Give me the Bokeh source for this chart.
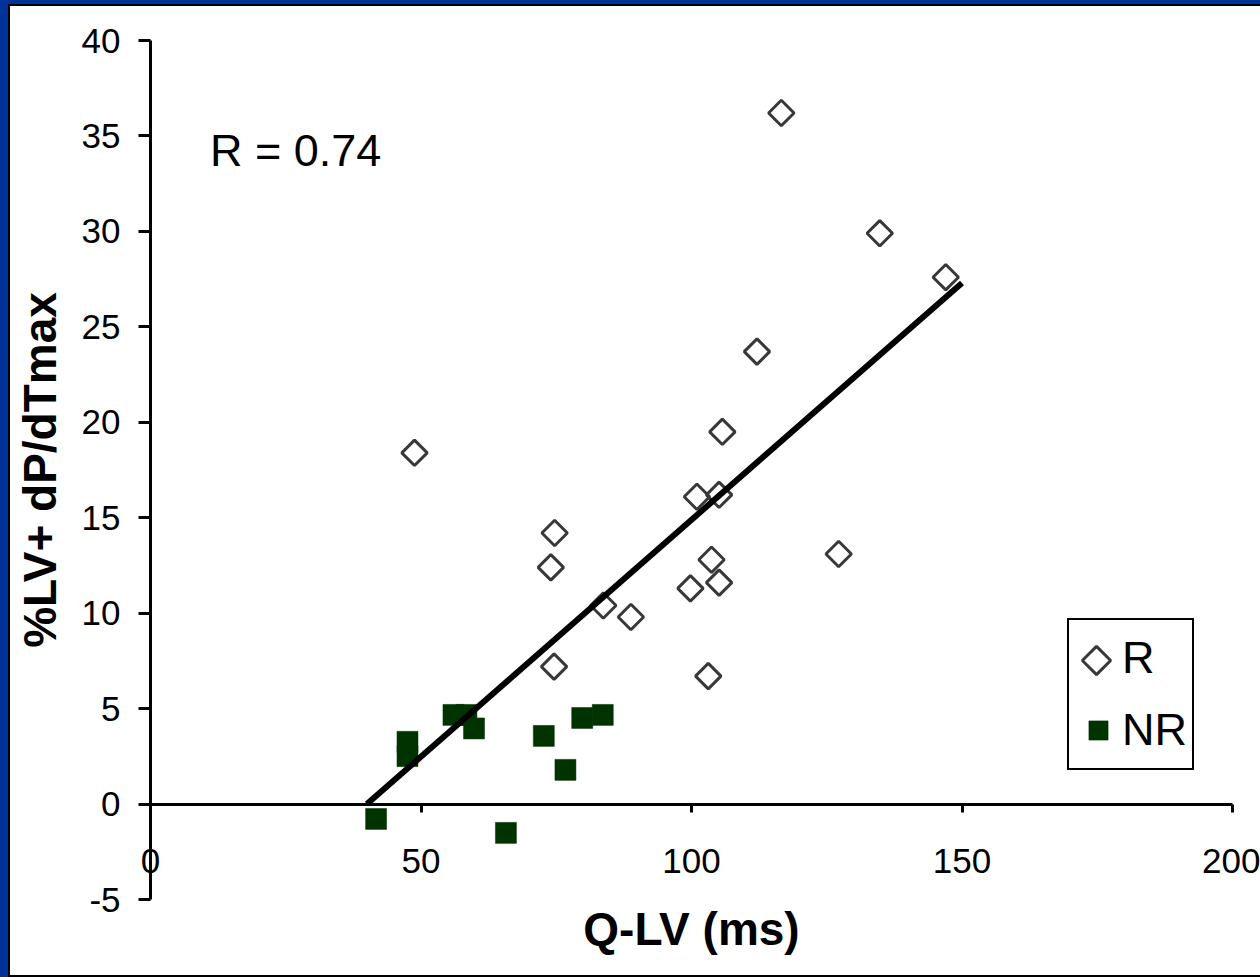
import math
from bokeh.plotting import figure
from bokeh.models import (Range1d, LinearAxis, FixedTicker, Label, Legend,
                          LegendItem)
from bokeh.layouts import column
from bokeh.embed import file_html
from bokeh.resources import INLINE

# ---- data ----
r_x = [116.6, 134.8, 147.0, 112.1, 105.7, 48.8, 101.0, 105.1, 74.7, 74.0,
       127.2, 103.7, 99.8, 105.1, 83.7, 88.8, 74.6, 103.1]
r_y = [36.2, 29.9, 27.6, 23.7, 19.5, 18.4, 16.1, 16.2, 14.2, 12.4,
       13.1, 12.8, 11.3, 11.6, 10.4, 9.8, 7.2, 6.7]
nr_x = [47.5, 47.5, 56.0, 58.4, 59.8, 72.7, 76.7, 79.8, 83.6, 41.7, 65.7]
nr_y = [3.26, 2.51, 4.67, 4.67, 3.96, 3.57, 1.79, 4.51, 4.67, -0.78, -1.51]
fit_x = [40.0, 150.0]
fit_y = [0.0, 27.3]
x_ticks = [0, 50, 100, 150, 200]
y_ticks = [-5, 0, 5, 10, 15, 20, 25, 30, 35, 40]
series_names = ["R", "NR"]
r_text = "R = 0.74"
x_title = "Q-LV (ms)"
y_title = "%LV+ dP/dTmax"

FONT = "Liberation Sans"

# ---- layout in pixels (figure is 1250 x 969) ----
W, H = 1250, 969
x0_px, x200_px = 140, 1222          # where x=0 and x=200 sit
y40_px, ym5_px = 34, 893            # where y=40 and y=-5 sit (from top)
sx = (x200_px - x0_px) / 200.0
sy = (ym5_px - y40_px) / 45.0
x_range = Range1d(-x0_px / sx, (W - x0_px) / sx)
y_range = Range1d(-5 - (H - ym5_px) / sy, 40 + y40_px / sy)

p = figure(width=W, height=H, x_range=x_range, y_range=y_range,
           output_backend="svg", toolbar_location=None, x_axis_location=None,
           y_axis_location=None, min_border=0, margin=(2, 0, 2, 2),
           styles={"background-color": "white"})
p.outline_line_color = None
p.background_fill_color = "white"
p.border_fill_color = "white"
p.grid.visible = False
p.extra_x_ranges = {"px": Range1d(0, W)}
p.extra_y_ranges = {"px": Range1d(0, H)}

# y axis at x = 0
ya = LinearAxis(fixed_location=0, bounds=(-5, 40), ticker=FixedTicker(ticks=y_ticks),
                major_label_overrides={t: str(t) for t in y_ticks},
                major_tick_out=12, major_tick_in=0, minor_tick_line_color=None,
                axis_line_width=3, major_tick_line_width=3,
                axis_line_color="black", major_tick_line_color="black",
                major_label_text_font=FONT, major_label_text_font_size="35px",
                major_label_text_color="black", major_label_standoff=18,
                axis_label=y_title, axis_label_text_font=FONT,
                axis_label_text_font_size="46px", axis_label_text_font_style="bold",
                axis_label_text_color="black", axis_label_standoff=13)
p.add_layout(ya, "left")

# x axis crossing at y = 0
xa = LinearAxis(fixed_location=0, bounds=(0, 200), ticker=FixedTicker(ticks=x_ticks),
                major_label_overrides={t: str(t) for t in x_ticks},
                major_tick_out=8, major_tick_in=0, minor_tick_line_color=None,
                axis_line_width=3, major_tick_line_width=3,
                axis_line_color="black", major_tick_line_color="black",
                major_label_text_font=FONT, major_label_text_font_size="35px",
                major_label_text_color="black", major_label_standoff=37,
                axis_label=x_title, axis_label_text_font=FONT,
                axis_label_text_font_size="46px", axis_label_text_font_style="bold",
                axis_label_text_color="black", axis_label_standoff=26)
p.add_layout(xa, "below")

r_rend = p.scatter(r_x, r_y, marker="square", angle=math.pi / 4, size=18,
                   fill_color=None, line_color="#383838", line_width=3)
nr_rend = p.scatter(nr_x, nr_y, marker="square", size=21,
                    fill_color="#003300", line_color="#003300", line_width=0.5)
p.line(fit_x, fit_y, line_color="black", line_width=6)

p.add_layout(Label(x=11.0, y=34.25, text=r_text, text_font=FONT,
                   text_font_size="45px", text_color="black",
                   text_baseline="alphabetic"))

# ---- legend ----
leg_x, leg_y = 1057, 205          # bottom-left of the legend box, frame pixels
pad, glyph_w, glyph_h, gap = 5, 48, 66, 6
leg_h = 2 * pad + 2 * glyph_h + gap
r_proxy = p.scatter(x=[], y=[], marker="square", fill_alpha=0, line_alpha=0)
legend = Legend(items=[LegendItem(label=series_names[0], renderers=[r_proxy]),
                       LegendItem(label=series_names[1], renderers=[nr_rend])],
                location=(leg_x, leg_y), margin=0, padding=pad, spacing=gap,
                glyph_width=glyph_w, glyph_height=glyph_h, label_height=glyph_h,
                label_standoff=0, label_text_font=FONT,
                label_text_font_size="45px", label_text_color="black",
                border_line_color="black", border_line_width=2, border_line_alpha=1.0,
                background_fill_alpha=0.0)
p.add_layout(legend)
# diamond key for "R" (Bokeh legends do not rotate markers)
key_x = [leg_x + pad + glyph_w / 2]
key_y = [leg_y + leg_h - pad - glyph_h / 2]
p.scatter(key_x, key_y, x_range_name="px", y_range_name="px", marker="square",
          angle=math.pi / 4, size=20, fill_color=None, line_color="#383838",
          line_width=3)

inner = column(p, margin=(4, 0, 0, 8), styles={"background-color": "black"})
outer = column(inner, styles={"background-color": "#003399"})

open("out.html", "w").write(file_html(outer, INLINE))
